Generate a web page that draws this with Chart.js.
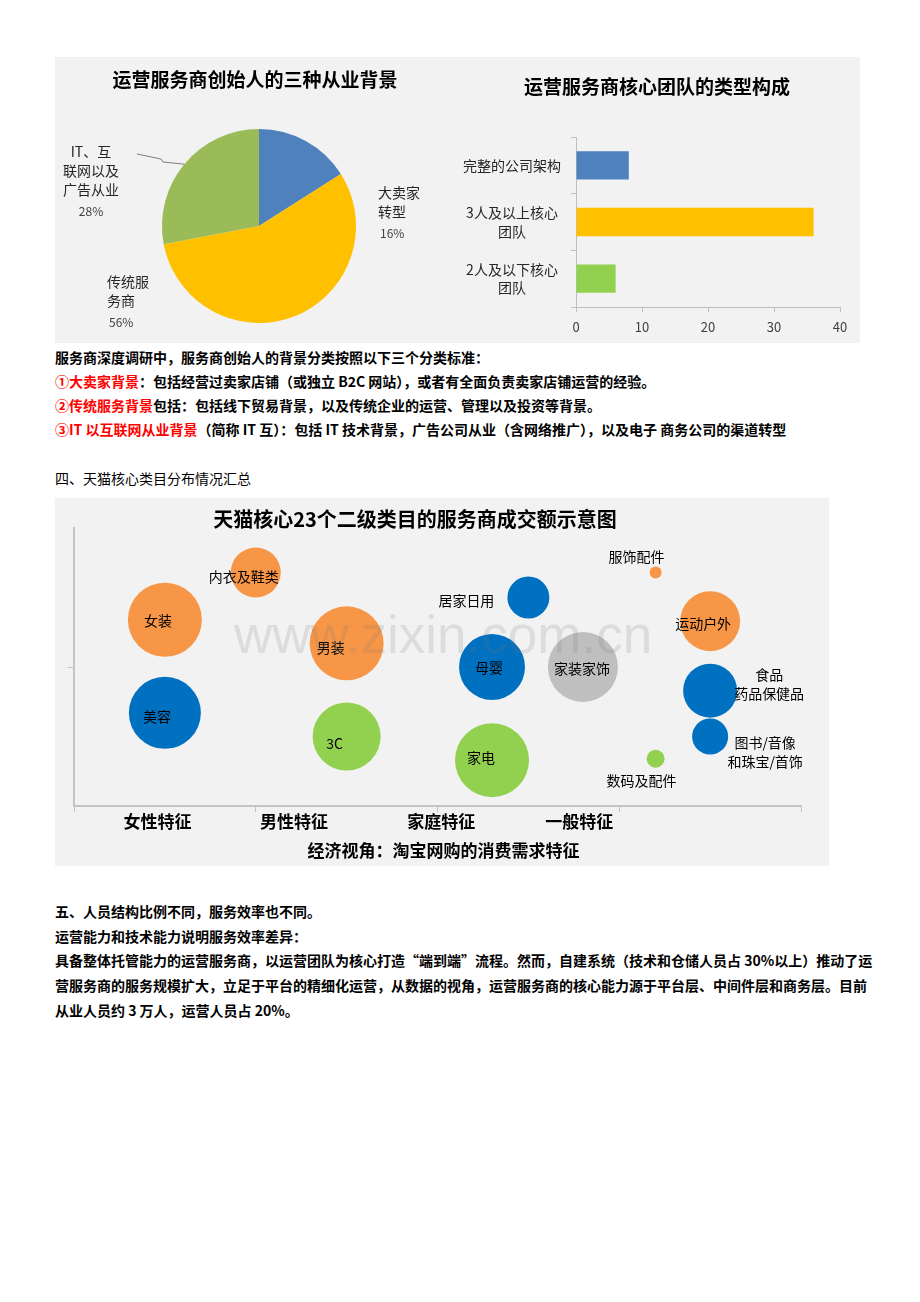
<!DOCTYPE html>
<html>
<head>
<meta charset="utf-8">
<script src="https://cdn.jsdelivr.net/npm/chart.js@4.4.1/dist/chart.umd.min.js"></script>
<style>
body { margin: 0; background: #fff; width: 920px; height: 1302px; position: relative; font-family: "Noto Sans CJK SC", "Noto Sans", sans-serif; }
.panel { position: absolute; background: #f2f2f2; }
.panel canvas { position: absolute; }
.line { position: absolute; left: 55px; font-size: 14px; font-weight: 700; line-height: 24px; white-space: nowrap; color: #000; }
.plain { font-weight: 400; }
.red { color: #ff0000; }
</style>
</head>
<body>

<div class="panel" style="left:55px;top:57px;width:805px;height:286px;">
  <canvas id="pieChart" width="390" height="286" style="left:0;top:0"></canvas>
  <canvas id="barChart" width="415" height="286" style="left:390px;top:0"></canvas>
</div>

<div class="line" style="top:345px">服务商深度调研中，服务商创始人的背景分类按照以下三个分类标准：</div>
<div class="line" style="top:369px"><span class="red">①大卖家背景</span>：包括经营过卖家店铺（或独立 B2C 网站），或者有全面负责卖家店铺运营的经验。</div>
<div class="line" style="top:393px"><span class="red">②传统服务背景</span>包括：包括线下贸易背景，以及传统企业的运营、管理以及投资等背景。</div>
<div class="line" style="top:417px"><span class="red">③IT 以互联网从业背景</span>（简称 IT 互）：包括 IT 技术背景，广告公司从业（含网络推广），以及电子 商务公司的渠道转型</div>

<div class="line plain" style="top:466px">四、天猫核心类目分布情况汇总</div>

<div class="panel" style="left:55px;top:498px;width:774px;height:368px;">
  <canvas id="bubbleChart" width="774" height="368" style="left:0;top:0"></canvas>
</div>

<div class="line" style="top:899px">五、人员结构比例不同，服务效率也不同。</div>
<div class="line" style="top:924px">运营能力和技术能力说明服务效率差异：</div>
<div class="line" style="top:948px">具备整体托管能力的运营服务商，以运营团队为核心打造“端到端”流程。然而，自建系统（技术和仓储人员占 30%以上）推动了运</div>
<div class="line" style="top:973px">营服务商的服务规模扩大，立足于平台的精细化运营，从数据的视角，运营服务商的核心能力源于平台层、中间件层和商务层。目前</div>
<div class="line" style="top:998px">从业人员约 3 万人，运营人员占 20%。</div>

<script>
// pie: founder background
const pieCategories = [['大卖家', '转型'], ['传统服', '务商'], ['IT、互', '联网以及', '广告从业']];
const pieValues = [16, 56, 28];

// bar: core team type
const barCategories = [['完整的公司架构'], ['3人及以上核心', '团队'], ['2人及以下核心', '团队']];
const barValues = [8, 36, 6];
const barTicks = [0, 10, 20, 30, 40];

// bubble: tmall categories
const bubbleNames = [['女装'], ['内衣及鞋类'], ['男装'], ['美容'], ['3C'], ['家电'], ['母婴'], ['居家日用'], ['家装家饰'], ['服饰配件'], ['运动户外'], ['食品', '药品保健品'], ['图书/音像', '和珠宝/首饰'], ['数码及配件']];
const bubbleX = [0.5, 1.0, 1.5, 0.5, 1.5, 2.3, 2.3, 2.5, 2.8, 3.2, 3.5, 3.5, 3.5, 3.2];
const bubbleY = [1.34, 1.68, 1.17, 0.67, 0.5, 0.33, 1.0, 1.5, 1.0, 1.68, 1.33, 0.83, 0.5, 0.34];
const bubbleSize = [37, 25, 37, 36, 34, 37, 33, 21, 35, 6, 30, 27, 18, 9];
const bubbleGroup = ['o', 'o', 'o', 'b', 'g', 'g', 'b', 'b', 's', 'o', 'o', 'b', 'b', 'g'];
const featureLabels = ['女性特征', '男性特征', '家庭特征', '一般特征'];
const featurePos = [0.46, 1.21, 2.02, 2.78];

const FONT = '"Noto Sans CJK SC", "Noto Sans", sans-serif';

// ---------- pie ----------
const pieLabelPos = [
  { dx: 119, dy: -33, align: 'left' },
  { dx: -152, dy: 56, align: 'left' },
  { dx: -168, dy: -74, align: 'center' }
];
const pieExtras = {
  id: 'pieExtras',
  afterDraw(chart) {
    const c = chart.ctx;
    c.save();
    c.fillStyle = '#000';
    c.font = 'bold 19px ' + FONT;
    c.textAlign = 'center';
    c.textBaseline = 'middle';
    c.fillText('运营服务商创始人的三种从业背景', 200, 23);

    const meta = chart.getDatasetMeta(0);
    const cx = meta.data[0].x, cy = meta.data[0].y;
    meta.data.forEach((arc, i) => {
      const p = pieLabelPos[i];
      const x = cx + p.dx;
      let y = cy + p.dy;
      c.textAlign = p.align;
      c.fillStyle = '#262626';
      c.font = '14px ' + FONT;
      pieCategories[i].forEach(t => { c.fillText(t, x, y); y += 19; });
      c.fillStyle = '#404040';
      c.font = '12px ' + FONT;
      const px = p.align === 'left' ? x + 2 : x;
      c.fillText(pieValues[i] + '%', px, y + 2);
    });

    // leader line for the green slice
    const g = meta.data[2];
    const mid = (g.startAngle + g.endAngle) / 2;
    const ex = cx + Math.cos(mid) * g.outerRadius;
    const ey = cy + Math.sin(mid) * g.outerRadius;
    c.strokeStyle = '#7f7f7f';
    c.lineWidth = 1;
    c.beginPath();
    c.moveTo(cx - 122, cy - 72);
    c.lineTo(cx - 98, cy - 67);
    c.lineTo(cx - 96, cy - 64);
    c.lineTo(ex, ey);
    c.stroke();
    c.restore();
  }
};

new Chart(document.getElementById('pieChart'), {
  type: 'pie',
  data: {
    labels: pieCategories.map(a => a.join('')),
    datasets: [{
      data: pieValues,
      backgroundColor: ['#4F81BD', '#FFC000', '#9BBB59'],
      borderWidth: 0
    }]
  },
  options: {
    responsive: false,
    animation: false,
    layout: { padding: { left: 107, right: 89, top: 72, bottom: 20 } },
    plugins: { legend: { display: false }, tooltip: { enabled: false } }
  },
  plugins: [pieExtras]
});

// ---------- bar ----------
const barTitle = {
  id: 'barTitle',
  afterDraw(chart) {
    const c = chart.ctx;
    c.save();
    c.fillStyle = '#000';
    c.font = 'bold 19px ' + FONT;
    c.textAlign = 'center';
    c.textBaseline = 'middle';
    c.fillText('运营服务商核心团队的类型构成', 212, 30);
    c.restore();
  }
};

new Chart(document.getElementById('barChart'), {
  type: 'bar',
  data: {
    labels: barCategories,
    datasets: [{
      data: barValues,
      backgroundColor: ['#4F81BD', '#FFC000', '#92D050'],
      categoryPercentage: 1,
      barPercentage: 0.5
    }]
  },
  options: {
    indexAxis: 'y',
    responsive: false,
    animation: false,
    layout: { padding: { left: 0, right: 20, top: 80, bottom: 0 } },
    plugins: { legend: { display: false }, tooltip: { enabled: false } },
    scales: {
      x: {
        min: barTicks[0],
        max: barTicks[barTicks.length - 1],
        afterBuildTicks(s) { s.ticks = barTicks.map(v => ({ value: v })); },
        ticks: { color: '#404040', font: { size: 13, family: FONT }, padding: 7 },
        grid: { drawOnChartArea: false, color: '#bfbfbf', tickLength: 5 },
        border: { color: '#bfbfbf' },
        afterFit(s) { s.height = 36; }
      },
      y: {
        ticks: { crossAlign: 'center', color: '#262626', font: { size: 14, family: FONT, lineHeight: 1.35 }, padding: 10 },
        grid: { drawOnChartArea: false, color: '#bfbfbf', tickLength: 5 },
        border: { color: '#bfbfbf' },
        afterFit(s) { s.width = 131; }
      }
    }
  },
  plugins: [barTitle]
});

// ---------- bubble ----------
const groupColors = { o: '#F79646', b: '#0070C0', g: '#92D050', s: '#BFBFBF' };
const bubbleLabelOffset = [
  [-7, 1], [-12, 4], [-16, 4], [-8, 4], [-12, 7], [-11, -2], [-3, 1],
  [-62, 3], [-1, 2], [-19, -16], [-7, 3], [59, -16], [55, 6], [-14, 22]
];

const bubbleExtras = {
  id: 'bubbleExtras',
  afterDatasetsDraw(chart) {
    const c = chart.ctx;
    const area = chart.chartArea;
    const xs = chart.scales.x;
    c.save();
    c.textBaseline = 'middle';
    c.textAlign = 'center';

    // bubble labels
    c.fillStyle = '#000';
    c.font = '14px ' + FONT;
    chart.getDatasetMeta(0).data.forEach((el, i) => {
      const [dx, dy] = bubbleLabelOffset[i];
      bubbleNames[i].forEach((t, k) => c.fillText(t, el.x + dx, el.y + dy + k * 19));
    });

    // watermark
    c.fillStyle = 'rgba(120,120,120,0.18)';
    c.font = '53px "Liberation Sans", Arial, sans-serif';
    c.fillText('www.zixin.com.cn', 388, 140);

    // title
    c.fillStyle = '#000';
    c.font = 'bold 20px ' + FONT;
    c.fillText('天猫核心23个二级类目的服务商成交额示意图', 360, 21);

    // feature labels under the axis
    c.font = 'bold 17px ' + FONT;
    featureLabels.forEach((t, i) => c.fillText(t, xs.getPixelForValue(featurePos[i]), area.bottom + 16));
    c.fillText('经济视角：淘宝网购的消费需求特征', (area.left + area.right) / 2 + 6, area.bottom + 45);
    c.restore();
  }
};

new Chart(document.getElementById('bubbleChart'), {
  type: 'bubble',
  data: {
    datasets: [{
      data: bubbleX.map((x, i) => ({ x: x, y: bubbleY[i], r: bubbleSize[i] })),
      backgroundColor: bubbleGroup.map(g => groupColors[g]),
      borderWidth: 0,
      clip: false
    }]
  },
  options: {
    responsive: false,
    animation: false,
    layout: { autoPadding: false, padding: { left: 13, right: 28, top: 30, bottom: 54 } },
    plugins: { legend: { display: false }, tooltip: { enabled: false } },
    scales: {
      x: {
        type: 'linear', min: 0, max: 4,
        ticks: { stepSize: 1, display: false },
        grid: { drawOnChartArea: false, color: '#c4c4c4', tickLength: 6 },
        border: { color: '#c4c4c4', width: 2 },
        afterFit(s) { s.height = 6; }
      },
      y: {
        min: 0, max: 2,
        ticks: { stepSize: 1, display: false },
        grid: {
          drawOnChartArea: false,
          tickLength: 6,
          color: ctx => (ctx.tick && ctx.tick.value === 1) ? '#c4c4c4' : 'rgba(0,0,0,0)'
        },
        border: { color: '#c4c4c4', width: 2 },
        afterFit(s) { s.width = 6; }
      }
    }
  },
  plugins: [bubbleExtras]
});
</script>
</body>
</html>
